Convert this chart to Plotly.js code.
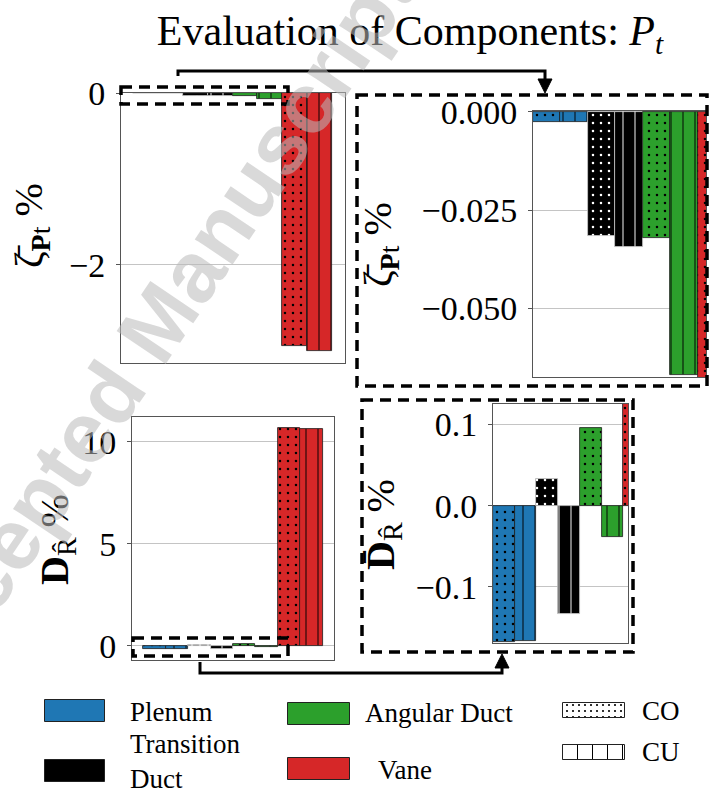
<!DOCTYPE html>
<html><head><meta charset="utf-8">
<script src="https://cdn.plot.ly/plotly-3.0.1.min.js"></script>
<style>html,body{margin:0;padding:0;background:#fff}</style>
</head><body><div id="chart" style="width:709px;height:795px"></div>
<script>
// ---- data ----
const components = ['Plenum', 'Transition Duct', 'Angular Duct', 'Vane'];
const componentColors = ['#1f77b4', '#000000', '#2ca02c', '#d62728'];
const cases = ['CO', 'CU'];
// mean total-pressure loss coefficient change, % (CO, CU)
const zetaCO = [-0.0025, -0.0317, -0.0322, -2.94];
const zetaCU = [-0.0025, -0.0343, -0.0670, -3.00];
// D_R change, % (CO, CU)
const dCO = [-0.168, 0.033, 0.096, 10.70];
const dCU = [-0.167, -0.133, -0.038, 10.65];
// tick labels
const zetaFullTicks = [0, -2];
const zetaFullText = ['0', '\u22122'];
const zetaZoomTicks = [0, -0.025, -0.05];
const zetaZoomText = ['0.000', '\u22120.025', '\u22120.050'];
const dFullTicks = [0, 5, 10];
const dFullText = ['0', '5', '10'];
const dZoomTicks = [-0.1, 0, 0.1];
const dZoomText = ['\u22120.1', '0.0', '0.1'];

// ---- helpers ----
const W = 709, H = 795;
const px = x => x / W;
const py = y => 1 - y / H;
const SERIF = 'Liberation Serif, Times New Roman, serif';

// one trace per component: CO bar (dotted) and CU bar (vertical hatch)
function componentTraces(co, cu, xa, ya) {
  return components.map((c, i) => ({
    type: 'bar', name: c, xaxis: xa, yaxis: ya,
    x: [2 * i, 2 * i + 1], y: [co[i], cu[i]], width: 1,
    marker: {
      color: componentColors[i],
      line: { color: i === 1 ? '#c8c8c8' : '#1a1a1a', width: 0.8 },
      pattern: { shape: ['.', '|'], fillmode: 'overlay', bgcolor: componentColors[i],
        fgcolor: i === 1 ? '#ffffff' : '#000000', fgopacity: 1, size: [8, 12], solidity: [0.08, 0.08] }
    },
    showlegend: false, hoverinfo: 'skip'
  }));
}

const traces = [].concat(
  componentTraces(zetaCO, zetaCU, 'x', 'y'),
  componentTraces(zetaCO, zetaCU, 'x2', 'y2'),
  componentTraces(dCO, dCU, 'x3', 'y3'),
  componentTraces(dCO, dCU, 'x4', 'y4')
);

// legend patches (drawn on a hidden pixel-space axis in the legend strip)
const colorItems = [
  { label: 'Plenum', color: componentColors[0], x0: 45, x1: 105, y0: 700, y1: 722, tx: 128, ty: 712 },
  { label: 'Transition<br>Duct', color: componentColors[1], x0: 45, x1: 105, y0: 760, y1: 782, tx: 128, ty: 761 },
  { label: 'Angular Duct', color: componentColors[2], x0: 288, x1: 350, y0: 703, y1: 725, tx: 363, ty: 713 },
  { label: 'Vane', color: componentColors[3], x0: 288, x1: 350, y0: 758, y1: 780, tx: 376, ty: 770 }
];
const caseItems = [
  { label: cases[0], shape: '.', size: 6, sol: 0.1, x0: 563, x1: 625, y0: 703, y1: 718, tx: 640, ty: 711 },
  { label: cases[1], shape: '|', size: 15, sol: 0.07, x0: 563, x1: 625, y0: 745, y1: 760, tx: 640, ty: 752 }
];
const LEG_TOP = 690;
traces.push({
  type: 'bar', orientation: 'h', xaxis: 'x5', yaxis: 'y5',
  base: colorItems.map(d => d.x0), x: colorItems.map(d => d.x1 - d.x0),
  y: colorItems.map(d => (d.y0 + d.y1) / 2), width: colorItems.map(d => d.y1 - d.y0),
  marker: { color: colorItems.map(d => d.color), line: { color: '#222', width: 1 } },
  showlegend: false, hoverinfo: 'skip'
});
traces.push({
  type: 'bar', orientation: 'h', xaxis: 'x5', yaxis: 'y5',
  base: caseItems.map(d => d.x0), x: caseItems.map(d => d.x1 - d.x0),
  y: caseItems.map(d => (d.y0 + d.y1) / 2), width: caseItems.map(d => d.y1 - d.y0),
  marker: { color: '#ffffff', line: { color: '#222', width: 1 },
    pattern: { shape: caseItems.map(d => d.shape), fillmode: 'overlay', bgcolor: '#ffffff', fgcolor: '#000000', fgopacity: 1,
      size: caseItems.map(d => d.size), solidity: caseItems.map(d => d.sol) } },
  showlegend: false, hoverinfo: 'skip'
});

function xAx(d0, d1, r, anchor) {
  return { domain: [px(d0), px(d1)], range: r, anchor: anchor, showticklabels: false, ticks: '',
    showgrid: false, zeroline: false, showline: true, mirror: true, linecolor: '#555', linewidth: 1 };
}
function yAx(d0, d1, r, anchor, tv, tt) {
  return { domain: [py(d1), py(d0)], range: r, anchor: anchor, tickmode: 'array', tickvals: tv, ticktext: tt,
    ticks: 'outside', ticklen: 4, tickcolor: '#555', ticklabelstandoff: 4, showgrid: true, gridcolor: '#c4c4c4', gridwidth: 1,
    zeroline: false, showline: true, mirror: true, linecolor: '#555', linewidth: 1,
    tickfont: { family: SERIF, size: 34, color: '#000' } };
}

const DASH = '11px,7px';
function dashRect(x0, y0, x1, y1) {
  return { type: 'rect', xref: 'paper', yref: 'paper', x0: px(x0), x1: px(x1), y0: py(y0), y1: py(y1),
    line: { color: '#000', width: 3.5, dash: DASH }, fillcolor: 'rgba(0,0,0,0)', layer: 'above' };
}
function pathP(points, close) {
  return 'M' + points.map(p => px(p[0]).toFixed(5) + ',' + py(p[1]).toFixed(5)).join(' L') + (close ? ' Z' : '');
}

const shapes = [
  dashRect(121, 87, 288, 104),
  dashRect(357, 95, 707, 386),
  dashRect(362, 400, 633, 652),
  dashRect(133, 638, 288, 656),
  { type: 'path', xref: 'paper', yref: 'paper', path: pathP([[178, 76], [178, 71], [545, 71], [545, 82]]), line: { color: '#000', width: 3 } },
  { type: 'path', xref: 'paper', yref: 'paper', path: pathP([[545, 93], [538, 79], [552, 79]], true), fillcolor: '#000', line: { color: '#000', width: 1 } },
  { type: 'path', xref: 'paper', yref: 'paper', path: pathP([[200, 662], [200, 673], [502, 673], [502, 664]]), line: { color: '#000', width: 3 } },
  { type: 'path', xref: 'paper', yref: 'paper', path: pathP([[502, 654], [495, 668], [509, 668]], true), fillcolor: '#000', line: { color: '#000', width: 1 } }
];

const annotations = [
  { text: '\u03B6\u0304<sub><b>P</b>t</sub> %', x: px(31), y: py(226), textangle: -90 },
  { text: '\u03B6\u0304<sub><b>P</b>t</sub> %', x: px(380), y: py(245), textangle: -90 },
  { text: '<b>D</b><sub>R\u0302</sub> %', x: px(57), y: py(540), textangle: -90 },
  { text: '<b>D\u0304</b><sub>R\u0302</sub> %', x: px(383), y: py(525), textangle: -90 }
].map(a => Object.assign({ xref: 'paper', yref: 'paper', showarrow: false, xanchor: 'center', yanchor: 'middle',
  font: { family: SERIF, size: 40, color: '#000' } }, a));

colorItems.concat(caseItems).forEach(d => {
  annotations.push({ text: d.label, xref: 'paper', yref: 'paper', x: px(d.tx), y: py(d.ty), xanchor: 'left', yanchor: 'middle',
    showarrow: false, align: 'left', font: { family: SERIF, size: 27, color: '#000' } });
});

annotations.push({ text: '<b>Accepted Manuscript</b>', xref: 'paper', yref: 'paper', x: px(151), y: py(332),
  textangle: -56, showarrow: false, xanchor: 'center', yanchor: 'middle',
  font: { family: 'Liberation Sans, Arial, sans-serif', size: 86, color: 'rgba(185,185,185,0.55)' } });

const layout = {
  width: W, height: H, margin: { l: 0, r: 0, t: 0, b: 0 },
  paper_bgcolor: '#fff', plot_bgcolor: 'rgba(0,0,0,0)', barmode: 'overlay', bargap: 0, showlegend: false,
  title: { text: 'Evaluation of Components: <i>P<sub>t</sub></i>', x: px(410), xanchor: 'center',
    y: py(30), yanchor: 'middle', font: { family: SERIF, size: 42, color: '#000' } },
  xaxis: xAx(121, 345, [-0.98, 8.02], 'y'),
  yaxis: yAx(93, 363, [-3.14, 0], 'x', zetaFullTicks, zetaFullText),
  xaxis2: xAx(533, 706, [-0.5, 5.8], 'y2'),
  yaxis2: yAx(111, 377, [-0.0675, 0.0002], 'x2', zetaZoomTicks, zetaZoomText),
  xaxis3: xAx(132, 334, [-0.99, 7.99], 'y3'),
  yaxis3: yAx(417, 660, [-0.69, 11.22], 'x3', dFullTicks, dFullText),
  xaxis4: xAx(493, 628, [-0.5, 5.72], 'y4'),
  yaxis4: yAx(404, 643, [-0.169, 0.125], 'x4', dZoomTicks, dZoomText),
  xaxis5: { domain: [0, 1], range: [0, W], visible: false, anchor: 'y5', fixedrange: true },
  yaxis5: { domain: [0, py(LEG_TOP)], range: [H, LEG_TOP], visible: false, anchor: 'x5', fixedrange: true },
  shapes: shapes, annotations: annotations
};

Plotly.newPlot('chart', traces, layout, { displayModeBar: false });
</script></body></html>
